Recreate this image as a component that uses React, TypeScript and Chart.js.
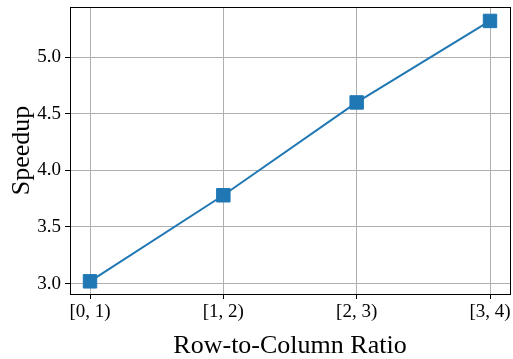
import React, { useEffect, useRef } from "react";
import { Chart, registerables } from "chart.js";

Chart.register(...registerables);

const categories = ["[0, 1)", "[1, 2)", "[2, 3)", "[3, 4)"];
const speedup = [3.02, 3.78, 4.6, 5.32];
const yTicks = [3.0, 3.5, 4.0, 4.5, 5.0];
const xTitle = "Row-to-Column Ratio";
const yTitle = "Speedup";

const FONT = "'Liberation Serif', 'Times New Roman', serif";

const frame = {
  id: "frame",
  afterDraw(chart: any) {
    const { ctx, chartArea } = chart;
    ctx.save();
    ctx.strokeStyle = "#000";
    ctx.lineWidth = 1;
    ctx.strokeRect(
      Math.round(chartArea.left) + 0.5,
      Math.round(chartArea.top) + 0.5,
      Math.round(chartArea.right - chartArea.left),
      Math.round(chartArea.bottom - chartArea.top)
    );
    ctx.restore();
  },
};

export default function App() {
  const ref = useRef<HTMLCanvasElement | null>(null);
  useEffect(() => {
    if (!ref.current) return;
    const chart = new Chart(ref.current, {
      type: "line",
      data: {
        datasets: [
          {
            data: speedup.map((v, i) => ({ x: i, y: v })),
            borderColor: "#1f77b4",
            backgroundColor: "#1f77b4",
            borderWidth: 2,
            pointStyle: "rect",
            pointRadius: 9.5,
            pointBorderWidth: 1,
            pointBorderColor: "#1f77b4",
            pointBackgroundColor: "#1f77b4",
            tension: 0,
            clip: false,
          },
        ],
      },
      options: {
        animation: false,
        responsive: true,
        maintainAspectRatio: false,
        layout: { autoPadding: false, padding: { top: 7, right: 3, left: 0, bottom: 0 } },
        plugins: { legend: { display: false }, tooltip: { enabled: false } },
        scales: {
          x: {
            type: "linear",
            min: -0.15,
            max: 3.15,
            afterBuildTicks: (s: any) => {
              s.ticks = categories.map((_, i) => ({ value: i }));
            },
            afterFit: (s: any) => {
              s.height = 65;
              s.paddingLeft = 0;
              s.paddingRight = 0;
            },
            ticks: {
              callback: (v: any) => categories[v as number] ?? "",
              font: { family: FONT, size: 19 },
              color: "#000",
              padding: 2,
              maxRotation: 0,
            },
            grid: {
              color: "#b0b0b0",
              lineWidth: 1,
              tickColor: "#000",
              tickLength: 5,
            },
            border: { color: "#000", width: 1 },
            title: {
              display: true,
              text: xTitle,
              font: { family: FONT, size: 26, lineHeight: 1 },
              color: "#000",
              padding: 0,
            },
          },
          y: {
            type: "linear",
            min: 2.908,
            max: 5.443,
            afterBuildTicks: (s: any) => {
              s.ticks = yTicks.map((v) => ({ value: v }));
            },
            afterFit: (s: any) => {
              s.width = 70;
              s.paddingTop = 0;
              s.paddingBottom = 0;
            },
            ticks: {
              callback: (v: any) => Number(v).toFixed(1),
              font: { family: FONT, size: 19 },
              color: "#000",
              padding: 4,
            },
            grid: {
              color: "#b0b0b0",
              lineWidth: 1,
              tickColor: "#000",
              tickLength: 5,
            },
            border: { color: "#000", width: 1 },
            title: {
              display: true,
              text: yTitle,
              font: { family: FONT, size: 26, lineHeight: 1 },
              color: "#000",
              padding: { top: 9, bottom: 0 },
            },
          },
        },
      },
      plugins: [frame],
    } as any);
    return () => chart.destroy();
  }, []);
  return (
    <div
      style={{
        position: "fixed",
        left: 0,
        top: 0,
        width: 513,
        height: 359,
        background: "#fff",
      }}
    >
      <canvas ref={ref} />
    </div>
  );
}
